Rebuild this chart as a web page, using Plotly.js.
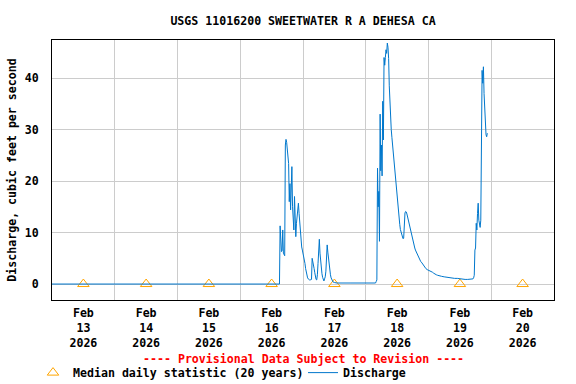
<!DOCTYPE html>
<html>
<head>
<meta charset="utf-8">
<script src="https://cdn.plot.ly/plotly-3.0.1.min.js"></script>
<style>
html,body{margin:0;padding:0;background:#fff;}
#chart{width:576px;height:384px;}
</style>
</head>
<body>
<div id="chart"></div>
<script>
// ---- Data ----
var dischargeTimes = [
'2026-02-13 00:00','2026-02-16 15:00','2026-02-16 15:15','2026-02-16 15:30','2026-02-16 15:45',
'2026-02-16 16:00','2026-02-16 16:15','2026-02-16 16:30','2026-02-16 16:45','2026-02-16 17:00',
'2026-02-16 17:15','2026-02-16 17:30','2026-02-16 17:45','2026-02-16 18:00','2026-02-16 18:15',
'2026-02-16 18:30','2026-02-16 18:45','2026-02-16 19:00','2026-02-16 19:15','2026-02-16 19:30',
'2026-02-16 19:45','2026-02-16 20:00','2026-02-16 20:15','2026-02-16 20:30','2026-02-16 20:45',
'2026-02-16 21:00','2026-02-16 21:15','2026-02-16 21:30','2026-02-16 21:45','2026-02-16 22:00',
'2026-02-16 22:15','2026-02-16 22:30','2026-02-16 22:45','2026-02-16 23:00','2026-02-16 23:15',
'2026-02-16 23:30','2026-02-16 23:45',
'2026-02-17 00:00','2026-02-17 00:15','2026-02-17 00:30','2026-02-17 00:45','2026-02-17 01:00',
'2026-02-17 01:15','2026-02-17 01:30','2026-02-17 01:45','2026-02-17 02:00','2026-02-17 02:15',
'2026-02-17 02:30','2026-02-17 02:45','2026-02-17 03:00','2026-02-17 03:15','2026-02-17 03:30',
'2026-02-17 03:45','2026-02-17 04:00','2026-02-17 04:15','2026-02-17 04:30','2026-02-17 04:45',
'2026-02-17 05:00','2026-02-17 05:15','2026-02-17 05:30','2026-02-17 05:45','2026-02-17 06:00',
'2026-02-17 06:15','2026-02-17 06:30','2026-02-17 06:45','2026-02-17 07:00','2026-02-17 07:15',
'2026-02-17 07:30','2026-02-17 07:45','2026-02-17 08:00','2026-02-17 08:15','2026-02-17 08:30',
'2026-02-17 08:45','2026-02-17 09:00','2026-02-17 09:15','2026-02-17 09:30','2026-02-17 09:45',
'2026-02-17 10:00','2026-02-17 10:15','2026-02-17 10:30','2026-02-17 10:45','2026-02-17 11:00',
'2026-02-17 11:15','2026-02-17 11:30','2026-02-17 12:00','2026-02-17 12:30','2026-02-17 13:00',
'2026-02-17 18:00','2026-02-18 03:45','2026-02-18 04:00','2026-02-18 04:15',
'2026-02-18 04:30','2026-02-18 04:45','2026-02-18 05:00','2026-02-18 05:15','2026-02-18 05:30',
'2026-02-18 05:45','2026-02-18 06:00','2026-02-18 06:15','2026-02-18 06:30','2026-02-18 06:45',
'2026-02-18 07:00','2026-02-18 07:15','2026-02-18 07:30','2026-02-18 07:45','2026-02-18 08:00',
'2026-02-18 08:15','2026-02-18 08:30','2026-02-18 08:45','2026-02-18 09:00','2026-02-18 09:15',
'2026-02-18 09:30','2026-02-18 09:45','2026-02-18 10:00','2026-02-18 10:15','2026-02-18 10:30',
'2026-02-18 10:45','2026-02-18 11:00','2026-02-18 11:15','2026-02-18 11:30','2026-02-18 11:45',
'2026-02-18 12:00','2026-02-18 12:15','2026-02-18 12:30','2026-02-18 12:45','2026-02-18 13:00',
'2026-02-18 13:15','2026-02-18 13:30','2026-02-18 13:45','2026-02-18 14:00','2026-02-18 14:15',
'2026-02-18 14:30','2026-02-18 14:45','2026-02-18 15:00','2026-02-18 15:15','2026-02-18 15:30',
'2026-02-18 15:45','2026-02-18 16:00','2026-02-18 16:15','2026-02-18 16:30','2026-02-18 16:45',
'2026-02-18 17:00','2026-02-18 17:15','2026-02-18 17:30','2026-02-18 17:45','2026-02-18 18:00',
'2026-02-18 18:15','2026-02-18 18:30','2026-02-18 18:45','2026-02-18 19:00','2026-02-18 19:30',
'2026-02-18 20:00','2026-02-18 20:30','2026-02-18 21:00','2026-02-18 21:30','2026-02-18 22:00',
'2026-02-18 22:30','2026-02-18 23:00','2026-02-18 23:30',
'2026-02-19 00:00','2026-02-19 00:30','2026-02-19 01:00','2026-02-19 01:30','2026-02-19 02:00',
'2026-02-19 02:30','2026-02-19 03:00','2026-02-19 03:30','2026-02-19 04:00','2026-02-19 05:00',
'2026-02-19 06:00','2026-02-19 07:00','2026-02-19 08:00','2026-02-19 09:00','2026-02-19 10:00',
'2026-02-19 11:00','2026-02-19 12:00','2026-02-19 13:00','2026-02-19 14:00','2026-02-19 15:00',
'2026-02-19 16:00','2026-02-19 17:00','2026-02-19 17:15','2026-02-19 17:30','2026-02-19 17:45',
'2026-02-19 18:00','2026-02-19 18:15','2026-02-19 18:30','2026-02-19 18:45','2026-02-19 19:00',
'2026-02-19 19:15','2026-02-19 19:30','2026-02-19 19:45','2026-02-19 20:00','2026-02-19 20:15',
'2026-02-19 20:30','2026-02-19 20:45','2026-02-19 21:00','2026-02-19 21:15','2026-02-19 21:30',
'2026-02-19 21:45','2026-02-19 22:00','2026-02-19 22:15','2026-02-19 22:30'
];
var dischargeValues = [
0,0,11.3,8.0,6.3,
6.5,10.5,6.0,5.6,5.5,
27.0,28.1,27.5,26.0,24.0,
23.4,16.0,19.5,14.4,21.0,
22.8,15.0,13.0,10.5,17.0,
13.7,9.2,11.8,13.0,14.0,
15.7,13.7,11.8,9.8,8.0,
7.2,6.6,
6.0,5.5,5.0,4.0,3.0,
2.2,1.6,1.2,1.0,0.8,
0.8,0.8,0.8,0.9,5.0,
4.5,4.0,3.0,2.2,1.4,
0.9,0.8,1.8,4.0,6.5,
8.7,6.0,4.2,3.0,2.0,
1.3,0.9,0.6,1.0,1.4,
2.5,5.0,7.6,6.2,4.7,
3.5,2.6,1.8,1.2,0.8,
0.6,0.4,0.3,0.2,0.2,
0.2,0.2,0.5,0.8,
22.5,15.0,18.0,8.3,33.0,
22.0,27.0,21.0,35.5,28.0,
44.0,42.5,44.0,45.5,44.8,
46.8,46.0,43.8,38.5,34.0,
31.5,30.0,28.5,27.0,25.2,
23.8,22.3,21.2,20.0,18.8,
17.6,16.2,14.5,12.8,11.6,
10.6,10.0,9.4,9.0,8.8,
8.9,12.5,13.8,14.1,14.0,
13.6,13.0,12.5,12.0,11.5,
10.8,10.2,9.6,9.0,8.5,
8.0,7.5,7.0,6.6,6.0,
5.4,5.0,4.4,4.1,3.7,
3.3,3.0,2.8,
2.7,2.6,2.5,2.3,2.1,
1.9,1.8,1.7,1.6,1.5,
1.4,1.3,1.3,1.2,1.1,
1.1,1.0,1.0,0.9,0.9,
0.9,1.0,1.2,1.7,6.6,
7.0,11.8,10.5,13.7,15.7,
12.4,11.5,11.0,12.4,31.2,
41.5,39.0,42.2,37.0,33.0,
30.5,29.0,28.6,29.3
];
var medianDates = ['2026-02-13 12:00','2026-02-14 12:00','2026-02-15 12:00','2026-02-16 12:00',
                   '2026-02-17 12:00','2026-02-18 12:00','2026-02-19 12:00','2026-02-20 12:00'];
var medianValues = [0,0,0,0,0,0,0,0];
var xRange = ['2026-02-13 00:00','2026-02-21 00:00'];
var yRange = [-3.1, 47.4];
var titleText = 'USGS 11016200 SWEETWATER R A DEHESA CA';
var yTitleText = 'Discharge, cubic feet per second';
var provisionalText = '---- Provisional Data Subject to Revision ----';

// ---- Styling ----
var FONT = 'DejaVu Sans Mono, Liberation Mono, monospace';
var baseFont = {family: FONT, size: 11.6, color: '#000000', weight: 'bold'};

var traces = [
  {
    x: medianDates, y: medianValues, type: 'scatter', mode: 'markers',
    name: 'Median daily statistic (20 years)', legend: 'legend',
    marker: {symbol: 'triangle-up-open', size: 10, color: '#ffa500', line: {width: 1, color: '#ffa500'}},
    cliponaxis: false
  },
  {
    x: dischargeTimes, y: dischargeValues, type: 'scatter', mode: 'lines',
    name: 'Discharge', legend: 'legend2',
    line: {color: '#0077cc', width: 1}
  }
];

var legendCommon = {orientation: 'h', xanchor: 'left', y: -0.2235, yanchor: 'top',
                    font: baseFont, bgcolor: 'rgba(0,0,0,0)', borderwidth: 0, itemwidth: 30};

var layout = {
  width: 576, height: 384,
  margin: {l: 52, r: 22, t: 40, b: 84, pad: 0, autoexpand: false},
  paper_bgcolor: '#ffffff', plot_bgcolor: '#ffffff',
  font: baseFont,
  title: {text: titleText, font: baseFont, x: 0.5, xref: 'paper', xanchor: 'center',
          y: 1 - 21/384, yref: 'container', yanchor: 'middle'},
  showlegend: true,
  legend: Object.assign({}, legendCommon, {x: -0.0378}),
  legend2: Object.assign({}, legendCommon, {x: 0.5}),
  xaxis: {
    type: 'date', range: xRange, autorange: false,
    tick0: '2026-02-13', dtick: 86400000, tickformat: '%b<br>%d<br>%Y',
    ticklabelmode: 'period', ticks: '', ticklabelstandoff: 2,
    showgrid: true, gridcolor: '#cccccc', gridwidth: 1,
    showline: true, mirror: true, linecolor: '#000000', linewidth: 1,
    zeroline: false, tickfont: baseFont, fixedrange: true, automargin: false
  },
  yaxis: {
    range: yRange, autorange: false, tick0: 0, dtick: 10,
    ticks: '', ticklabelstandoff: 10,
    showgrid: true, gridcolor: '#cccccc', gridwidth: 1,
    showline: true, mirror: true, linecolor: '#000000', linewidth: 1,
    zeroline: false, tickfont: baseFont,
    title: {text: yTitleText, font: baseFont, standoff: 5},
    automargin: false, fixedrange: true
  },
  annotations: [
    {text: provisionalText, xref: 'paper', yref: 'paper', x: 0.5, y: (300-359)/260,
     xanchor: 'center', yanchor: 'middle', showarrow: false,
     font: {family: FONT, size: 11.6, color: '#ff0000', weight: 'bold'}}
  ]
};

Plotly.newPlot('chart', traces, layout, {displayModeBar: false, staticPlot: true});
</script>
</body>
</html>
